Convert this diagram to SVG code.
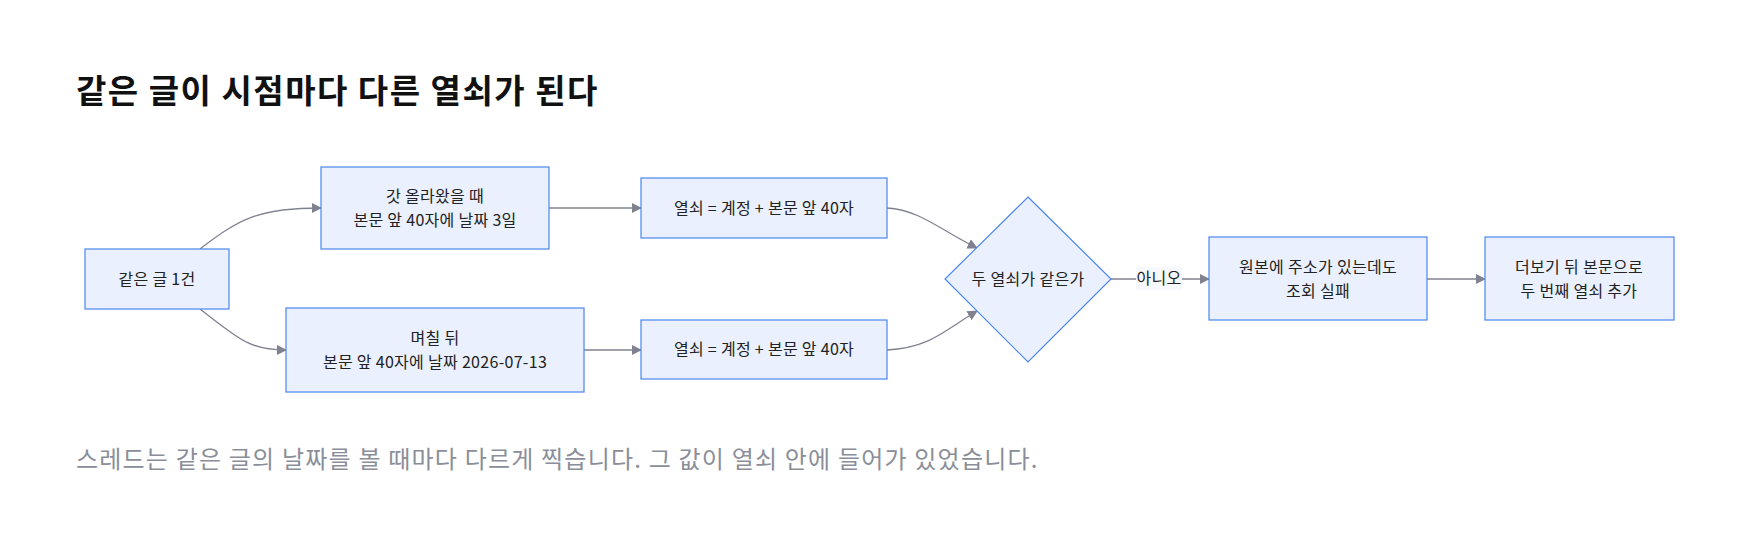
<svg xmlns="http://www.w3.org/2000/svg" width="1760" height="544" viewBox="0 0 1760 544">
<style>
text{font-family:"Noto Sans CJK KR","Noto Sans",sans-serif}
.n{fill:#eaf0fe;stroke:#4a86ee;stroke-width:1.2}
.t{font-size:16px;letter-spacing:0.3px;fill:#222;text-anchor:middle}
.e{fill:none;stroke:#80828f;stroke-width:1.3;marker-end:url(#a)}
</style>
<defs><marker id="a" viewBox="0 0 10 10" refX="9" refY="5" markerWidth="8" markerHeight="8" orient="auto"><path d="M0,0L10,5L0,10z" fill="#80828f"/></marker></defs>
<rect width="1760" height="544" fill="#fff"/>
<text x="76" y="103" font-size="33" font-weight="700" letter-spacing="1.5" fill="#111">같은 글이 시점마다 다른 열쇠가 된다</text>
<g id="edges">
<path class="e" d="M200,249C240,218 260,208 321,208"/>
<path class="e" d="M200,309C240,340 250,350 286,350"/>
<path class="e" d="M549,208H641"/>
<path class="e" d="M584,350H641"/>
<path class="e" d="M887,208C920,210 940,230 977,248"/>
<path class="e" d="M887,350C930,348 945,330 977,311"/>
<path class="e" d="M1111,279H1209"/>
<path class="e" d="M1427,279H1485"/>
<rect x="1136" y="267" width="46" height="23" fill="#f7f8fc"/>
<text class="t" x="1159" y="284">아니오</text>
</g>
<g id="n1"><rect class="n" x="85" y="249" width="144" height="60"/><text class="t" x="157" y="285">같은 글 1건</text></g>
<g id="n2"><rect class="n" x="321" y="167" width="228" height="82"/><text class="t" x="435" y="202">갓 올라왔을 때</text><text class="t" x="435" y="226">본문 앞 40자에 날짜 3일</text></g>
<g id="n3"><rect class="n" x="286" y="308" width="298" height="84"/><text class="t" x="435" y="344">며칠 뒤</text><text class="t" x="435" y="368">본문 앞 40자에 날짜 2026-07-13</text></g>
<g id="n4"><rect class="n" x="641" y="178" width="246" height="60"/><text class="t" x="764" y="214">열쇠 = 계정 + 본문 앞 40자</text></g>
<g id="n5"><rect class="n" x="641" y="320" width="246" height="59"/><text class="t" x="764" y="355">열쇠 = 계정 + 본문 앞 40자</text></g>
<g id="n6"><path class="n" d="M1028,197L1111,279L1028,362L945,279z"/><text class="t" x="1028" y="285">두 열쇠가 같은가</text></g>
<g id="n7"><rect class="n" x="1209" y="237" width="218" height="83"/><text class="t" x="1318" y="273">원본에 주소가 있는데도</text><text class="t" x="1318" y="297">조회 실패</text></g>
<g id="n8"><rect class="n" x="1485" y="237" width="189" height="83"/><text class="t" x="1579" y="273">더보기 뒤 본문으로</text><text class="t" x="1579" y="297">두 번째 열쇠 추가</text></g>
<text x="76" y="468" font-size="24" letter-spacing="1.2" fill="#8a8e99">스레드는 같은 글의 날짜를 볼 때마다 다르게 찍습니다. 그 값이 열쇠 안에 들어가 있었습니다.</text>
</svg>
